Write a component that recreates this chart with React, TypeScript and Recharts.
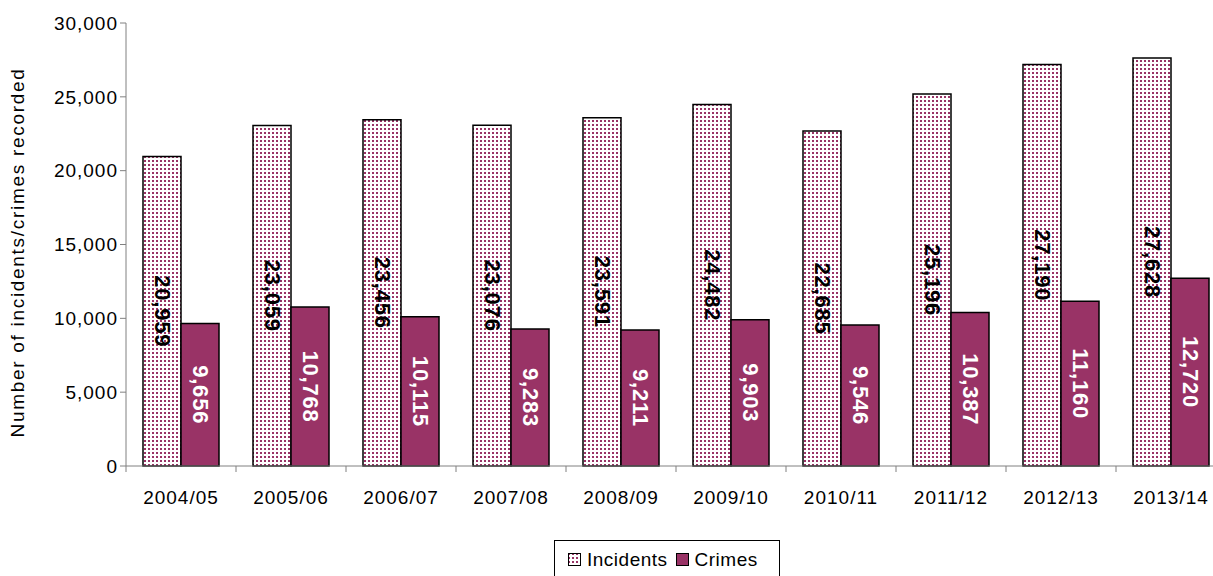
import { BarChart, Bar, XAxis, YAxis, Legend, LabelList } from "recharts";

const years = [
  "2004/05", "2005/06", "2006/07", "2007/08", "2008/09",
  "2009/10", "2010/11", "2011/12", "2012/13", "2013/14",
];
const incidents = [20959, 23059, 23456, 23076, 23591, 24482, 22685, 25196, 27190, 27628];
const crimes = [9656, 10768, 10115, 9283, 9211, 9903, 9546, 10387, 11160, 12720];
const yTicks = [0, 5000, 10000, 15000, 20000, 25000, 30000];

const PLUM = "#993366";
const FONT = "'Liberation Sans', Arial, sans-serif";
const fmt = (v: number) => v.toLocaleString("en-US");

const data = years.map((year, i) => ({
  year,
  incidents: incidents[i],
  crimes: crimes[i],
}));

const STEP = 1100 / years.length;

function CategoryTick(props: any) {
  const { x, y, payload } = props;
  return (
    <g>
      <line x1={x - STEP / 2} y1={y - 8} x2={x - STEP / 2} y2={y - 2} stroke="#808080" />
      <text
        x={x}
        y={y + 30}
        textAnchor="middle"
        fontSize={19}
        letterSpacing={1}
        fontFamily={FONT}
        fill="#000"
      >
        {payload.value}
      </text>
    </g>
  );
}

function barLabel(color: string) {
  return (props: any) => {
    const { x, y, width, height, value } = props;
    const cx = x + width / 2;
    const cy = y + height / 2;
    return (
      <text
        x={cx}
        y={cy}
        transform={`rotate(90 ${cx} ${cy})`}
        textAnchor="middle"
        dominantBaseline="central"
        fontSize={22}
        fontWeight="bold"
        letterSpacing={0.8}
        fontFamily={FONT}
        fill={color}
      >
        {fmt(value)}
      </text>
    );
  };
}

function LegendBox() {
  return (
    <div
      style={{
        border: "1px solid #000",
        width: 226,
        height: 44,
        boxSizing: "border-box",
        display: "flex",
        alignItems: "flex-start",
        paddingTop: 8,
        paddingLeft: 13,
        fontFamily: FONT,
        fontSize: 19,
        letterSpacing: 0.5,
        background: "#fff",
      }}
    >
      <svg width={13} height={13} style={{ marginTop: 4, marginRight: 6 }}>
        <rect x={0.5} y={0.5} width={12} height={12} fill="url(#dots)" stroke="#000" />
      </svg>
      <span style={{ marginRight: 8 }}>Incidents</span>
      <svg width={13} height={13} style={{ marginTop: 4, marginRight: 6 }}>
        <rect x={0.5} y={0.5} width={12} height={12} fill={PLUM} stroke="#000" />
      </svg>
      <span>Crimes</span>
    </div>
  );
}

export default function App() {
  return (
    <div
      style={{
        position: "absolute",
        left: 0,
        top: 0,
        width: 1213,
        height: 576,
        overflow: "hidden",
        background: "#fff",
      }}
    >
      <BarChart
        width={1233}
        height={600}
        data={data}
        margin={{ top: 23, right: 7, left: 0, bottom: 30 }}
        barGap={0}
        barCategoryGap={17}
      >
        <defs>
          <pattern id="dots" width={4} height={4} patternUnits="userSpaceOnUse">
            <rect width={4} height={4} fill="#fff" />
            <rect width={2} height={2} fill={PLUM} />
          </pattern>
        </defs>
        <XAxis
          dataKey="year"
          height={60}
          stroke="#808080"
          tickLine={false}
          tick={<CategoryTick />}
          interval={0}
        />
        <YAxis
          width={126}
          domain={[0, 30000]}
          ticks={yTicks}
          stroke="#808080"
          tickSize={6}
          tickFormatter={fmt}
          tick={{ fontSize: 19, fill: "#000", fontFamily: FONT, letterSpacing: 1 }}
          label={{
            value: "Number of incidents/crimes recorded",
            angle: -90,
            position: "insideLeft",
            dx: 12,
            dy: 8,
            style: {
              fontSize: 19,
              fill: "#000",
              fontFamily: FONT,
              letterSpacing: 1.7,
              textAnchor: "middle",
            },
          }}
        />
        <Legend
          content={() => <LegendBox />}
          wrapperStyle={{ position: "absolute", left: 554, top: 540, width: 226 }}
        />
        <Bar
          dataKey="incidents"
          name="Incidents"
          fill="url(#dots)"
          stroke="#000"
          strokeWidth={1.5}
          isAnimationActive={false}
        >
          <LabelList dataKey="incidents" content={barLabel("#000")} />
        </Bar>
        <Bar
          dataKey="crimes"
          name="Crimes"
          fill={PLUM}
          stroke="#000"
          strokeWidth={1.5}
          isAnimationActive={false}
        >
          <LabelList dataKey="crimes" content={barLabel("#fff")} />
        </Bar>
      </BarChart>
    </div>
  );
}
